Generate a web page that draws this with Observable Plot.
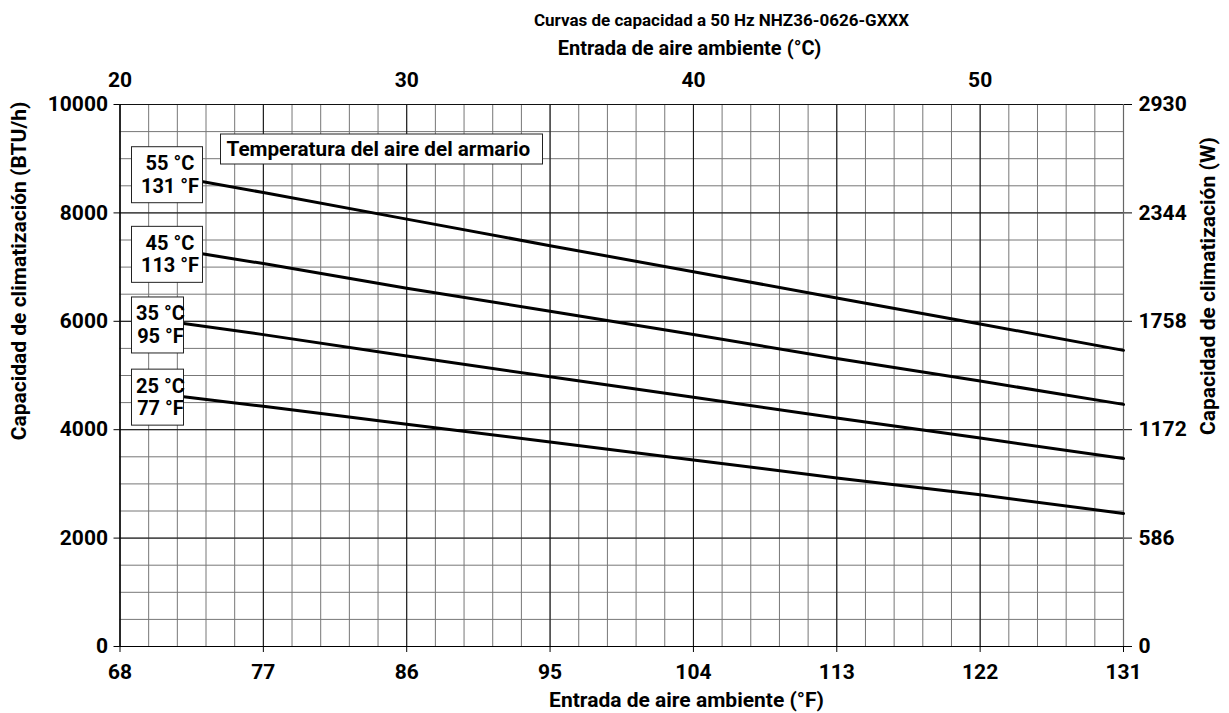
<!DOCTYPE html>
<html>
<head>
<meta charset="utf-8">
<script src="https://cdn.jsdelivr.net/npm/d3@7"></script>
<script src="https://cdn.jsdelivr.net/npm/@observablehq/plot@0.6"></script>
<style>
  html, body { margin: 0; padding: 0; background: #fff; }
  #chart { width: 1229px; height: 713px; }
</style>
</head>
<body>
<div id="chart"></div>
<script>
// Ambient air inlet temperature (°F) at which each curve is read
const ambientF = [72, 77, 86, 95, 104, 113, 122, 131];

// Cabinet air temperature for each curve
const cabinetC = [55, 45, 35, 25];
const cabinetF = [131, 113, 95, 77];

// Cooling capacity (BTU/h) per cabinet temperature
const btu55 = [8640, 8375, 7885, 7395, 6915, 6430, 5950, 5464];
const btu45 = [7300, 7065, 6610, 6185, 5755, 5315, 4898, 4467];
const btu35 = [5960, 5754, 5360, 4975, 4600, 4215, 3845, 3470];
const btu25 = [4610, 4431, 4100, 3772, 3440, 3110, 2800, 2455];

// Axis tick labels
const fTicks = [68, 77, 86, 95, 104, 113, 122, 131];
const cTicks = [20, 30, 40, 50];
const btuTicks = [0, 2000, 4000, 6000, 8000, 10000];
const wattTicks = [0, 586, 1172, 1758, 2344, 2930];

const series = [btu55, btu45, btu35, btu25];
const rows = series.flatMap((vals, i) =>
  vals.map((v, j) => ({ cabinet: cabinetC[i], f: ambientF[j], btu: v }))
);

const cToF = c => c * 9 / 5 + 32;
const minorF = d3.range(36).map(i => 68 + i * 1.8);   // one line per °C
const minorBtu = d3.range(0, 10001, 500);

const FONT = "Roboto, 'Noto Sans', sans-serif";

// Boxed labels at the start of every curve, plus the legend heading
function curveLabels(index, scales) {
  const g = d3.create("svg:g")
    .attr("font-family", FONT)
    .attr("font-weight", "bold")
    .attr("fill", "#000");
  const shift = [-31, -24, -26, -27];
  cabinetC.forEach((c, i) => {
    const x0 = scales.x(68) + 12;
    const w = cabinetF[i] >= 100 ? 71 : 52;
    const top = scales.y(series[i][0]) + shift[i];
    g.append("rect")
      .attr("x", x0).attr("y", top).attr("width", w).attr("height", 56)
      .attr("fill", "#fff").attr("stroke", "#222").attr("stroke-width", 1);
    const t = g.append("text")
      .attr("text-anchor", "middle").attr("font-size", 20);
    t.append("tspan").attr("x", x0 + w / 2 + 3).attr("y", top + 23.5).text(`${c} °C`);
    t.append("tspan").attr("x", x0 + w / 2 + 3).attr("y", top + 46).text(`${cabinetF[i]} °F`);
  });
  const lx = scales.x(68) + 101, ly = scales.y(10000) + 30;
  g.append("rect")
    .attr("x", lx).attr("y", ly).attr("width", 322).attr("height", 30)
    .attr("fill", "#fff").attr("stroke", "#222").attr("stroke-width", 1);
  g.append("text")
    .attr("text-anchor", "start")
    .attr("x", lx + 6).attr("y", ly + 21.5).attr("font-size", 20.7)
    .text("Temperatura del aire del armario");
  return g.node();
}

// Chart title and axis titles placed around the frame
function titles(index, scales, values, dim) {
  const g = d3.create("svg:g")
    .attr("font-family", FONT)
    .attr("font-weight", "bold")
    .attr("fill", "#000")
    .attr("text-anchor", "middle");
  const left = dim.marginLeft, right = dim.width - dim.marginRight;
  const top = dim.marginTop, bottom = dim.height - dim.marginBottom;
  const add = (text, x, y, size, rotate = 0) =>
    g.append("text")
      .attr("transform", `translate(${x},${y}) rotate(${rotate})`)
      .attr("dy", "0.35em")
      .attr("font-size", size)
      .text(text);
  add("Curvas de capacidad a 50 Hz NHZ36-0626-GXXX", left + 602, top - 84, 17);
  add("Entrada de aire ambiente (°C)", left + 570, top - 56, 20);
  add("Entrada de aire ambiente (°F)", left + 567, bottom + 54, 21);
  add("Capacidad de climatización (BTU/h)", left - 101, top + 167, 21, -90);
  add("Capacidad de climatización (W)", right + 85, top + 182, 21, -90);
  return g.node();
}

const chart = Plot.plot({
  width: 1229,
  height: 713,
  marginTop: 104,
  marginBottom: 67,
  marginLeft: 119.5,
  marginRight: 106,
  style: { fontFamily: FONT, background: "#fff", color: "#000" },
  x: { domain: [68, 131] },
  y: { domain: [0, 10000] },
  marks: [
    Plot.gridX(minorF, { stroke: "#777", strokeOpacity: 1, strokeWidth: 1 }),
    Plot.gridY(minorBtu, { stroke: "#777", strokeOpacity: 1, strokeWidth: 1 }),
    Plot.gridX(fTicks.slice(0, -1), { stroke: "#111", strokeOpacity: 1, strokeWidth: 1 }),
    Plot.gridY(btuTicks, { stroke: "#111", strokeOpacity: 1, strokeWidth: 1 }),
    Plot.ruleX([131], { stroke: "#666", strokeWidth: 1.2 }),
    Plot.ruleX([68], { stroke: "#000", strokeWidth: 1.2 }),
    Plot.ruleY([0], { stroke: "#000", strokeWidth: 1.2 }),
    Plot.line(rows, { x: "f", y: "btu", z: "cabinet", stroke: "#000", strokeWidth: 3 }),
    Plot.axisX(fTicks, {
      anchor: "bottom", tickSize: 6, tickPadding: 12, label: null,
      tickFormat: d => String(d),
      fontSize: 21, fontWeight: "bold", stroke: "#000"
    }),
    Plot.axisX(cTicks.map(cToF), {
      anchor: "top", tickSize: 0, tickPadding: 18, label: null,
      tickFormat: f => String(cTicks[cTicks.map(cToF).indexOf(f)]),
      fontSize: 21, fontWeight: "bold"
    }),
    Plot.axisY(btuTicks, {
      anchor: "left", tickSize: 6, tickPadding: 6, label: null,
      tickFormat: d => String(d),
      fontSize: 21, fontWeight: "bold", stroke: "#000"
    }),
    Plot.axisY(btuTicks, {
      anchor: "right", tickSize: 8, tickPadding: 7, label: null,
      tickFormat: d => String(wattTicks[btuTicks.indexOf(d)]),
      fontSize: 21, fontWeight: "bold", stroke: "#000"
    }),
    curveLabels,
    titles
  ]
});

document.getElementById("chart").appendChild(chart);
</script>
</body>
</html>
